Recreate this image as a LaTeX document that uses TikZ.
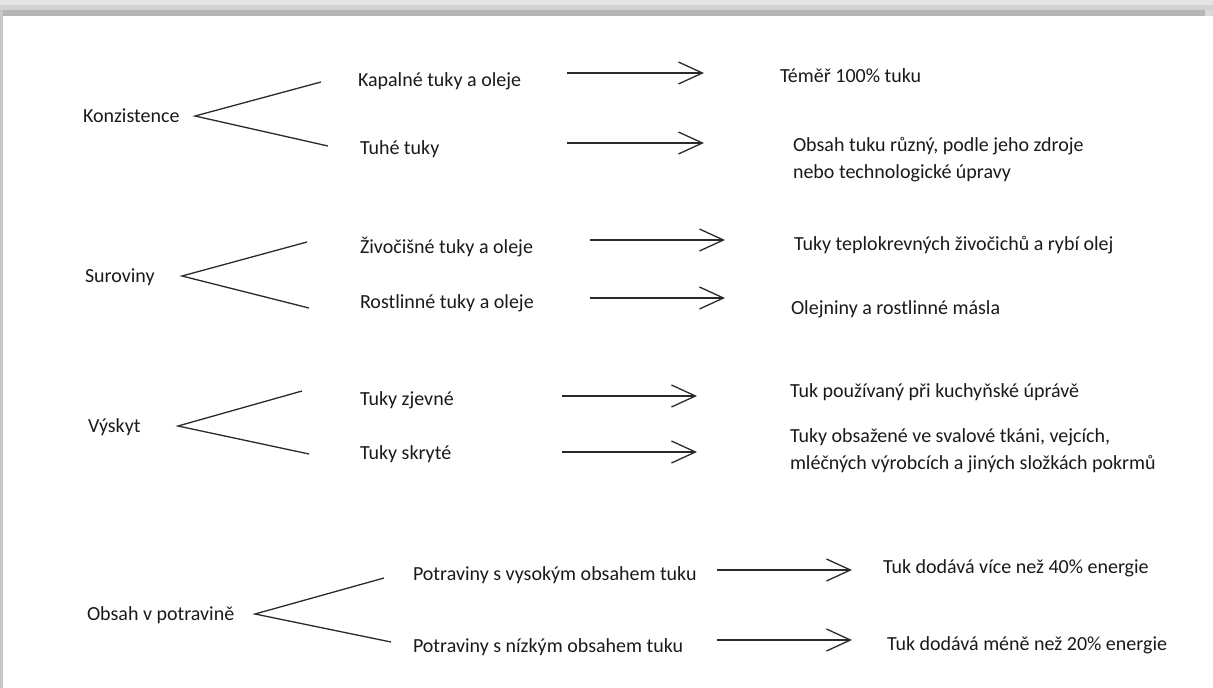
\documentclass[tikz,border=0pt]{standalone}
\usepackage{fontspec}
\setmainfont{Carlito}
\usetikzlibrary{arrows.meta}
\definecolor{txt}{HTML}{1A1A1A}
\definecolor{ln}{HTML}{2A2A2A}
\begin{document}
\begin{tikzpicture}[x=1pt,y=-1pt,
  lbl/.style={anchor=base west,inner sep=0pt,outer sep=0pt,text=txt,font=\fontsize{20}{27}\selectfont,align=left},
  branch/.style={draw=ln,line width=1.3pt},
  arr/.style={draw=ln,line width=1.3pt,-{Straight Barb[length=24pt,width=22pt,line width=1.3pt]}}]
\useasboundingbox (0,0) rectangle (1213,688);
\fill[white] (0,0) rectangle (1213,688);
% window shadow
\fill[gray!20] (0,0) rectangle (1213,5);
\fill[gray!35] (0,5) rectangle (1213,10);
\fill[gray!58] (3,10) rectangle (1205,16);
\fill[gray!30] (1205,10) rectangle (1213,16);
\fill[gray!45] (0,10) rectangle (3,688);

% ---------- Konzistence ----------
\node[lbl] (k) at (83,122) {Konzistence};
\node[lbl] (k1) at (358,86) {Kapalné tuky a oleje};
\node[lbl] (k2) at (360,154) {Tuhé tuky};
\node[lbl] (k1r) at (780,82) {Téměř 100\% tuku};
\node[lbl] (k2r) at (793,178) {Obsah tuku různý, podle jeho zdroje\\nebo technologické úpravy};
\coordinate (kv) at (195,116);
\coordinate (ku) at (321,82);
\coordinate (kd) at (328,146);
\draw[branch] (ku) -- (kv) -- (kd);
\coordinate (ka1) at (567,73);  \coordinate (kb1) at (704,73);
\coordinate (ka2) at (567,143); \coordinate (kb2) at (704,143);
\draw[arr] (ka1) -- (kb1);
\draw[arr] (ka2) -- (kb2);

% ---------- Suroviny ----------
\node[lbl] (s) at (85,282) {Suroviny};
\node[lbl] (s1) at (360,253) {Živočišné tuky a oleje};
\node[lbl] (s2) at (360,308) {Rostlinné tuky a oleje};
\node[lbl] (s1r) at (794,250) {Tuky teplokrevných živočichů a rybí olej};
\node[lbl] (s2r) at (791,314) {Olejniny a rostlinné másla};
\coordinate (sv) at (182,276);
\coordinate (su) at (307,242);
\coordinate (sd) at (309,308);
\draw[branch] (su) -- (sv) -- (sd);
\coordinate (sa1) at (590,240); \coordinate (sb1) at (725,240);
\coordinate (sa2) at (590,298); \coordinate (sb2) at (725,298);
\draw[arr] (sa1) -- (sb1);
\draw[arr] (sa2) -- (sb2);

% ---------- Vyskyt ----------
\node[lbl] (v) at (88,432) {Výskyt};
\node[lbl] (v1) at (360,405) {Tuky zjevné};
\node[lbl] (v2) at (360,459) {Tuky skryté};
\node[lbl] (v1r) at (790,397) {Tuk používaný při kuchyňské úprávě};
\node[lbl] (v2r) at (790,469) {Tuky obsažené ve svalové tkáni, vejcích,\\mléčných výrobcích a jiných složkách pokrmů};
\coordinate (vv) at (178,426);
\coordinate (vu) at (302,391);
\coordinate (vd) at (309,454);
\draw[branch] (vu) -- (vv) -- (vd);
\coordinate (va1) at (562,396); \coordinate (vb1) at (697,396);
\coordinate (va2) at (562,452); \coordinate (vb2) at (697,452);
\draw[arr] (va1) -- (vb1);
\draw[arr] (va2) -- (vb2);

% ---------- Obsah v potravine ----------
\node[lbl] (o) at (87,620) {Obsah v potravině};
\node[lbl] (o1) at (413,580) {Potraviny s vysokým obsahem tuku};
\node[lbl] (o2) at (413,652) {Potraviny s nízkým obsahem tuku};
\node[lbl] (o1r) at (883,573) {Tuk dodává více než 40\% energie};
\node[lbl] (o2r) at (887,650) {Tuk dodává méně než 20\% energie};
\coordinate (ov) at (255,614);
\coordinate (ou) at (384,578);
\coordinate (od) at (391,642);
\draw[branch] (ou) -- (ov) -- (od);
\coordinate (oa1) at (717,570); \coordinate (ob1) at (852,570);
\coordinate (oa2) at (717,640); \coordinate (ob2) at (852,640);
\draw[arr] (oa1) -- (ob1);
\draw[arr] (oa2) -- (ob2);
\end{tikzpicture}
\end{document}
